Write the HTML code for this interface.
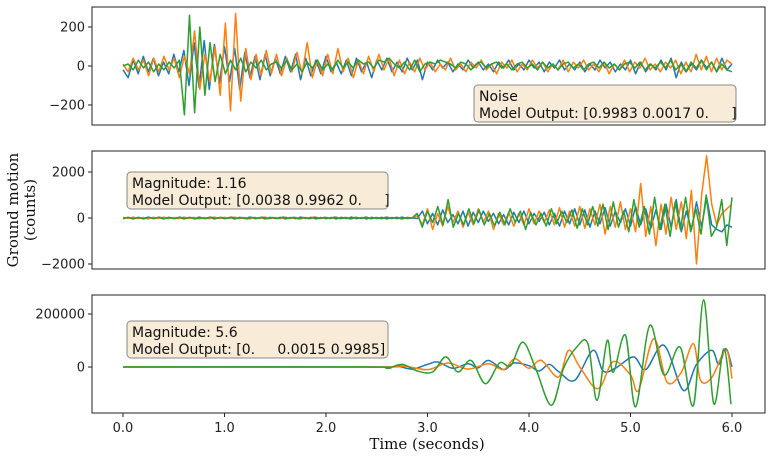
<!DOCTYPE html>
<html><head><meta charset="utf-8"><style>
body{margin:0;background:#fff;}
svg text{font-family:"DejaVu Sans","Liberation Sans",sans-serif;}
</style></head><body>
<svg id="chart" width="770" height="459" xmlns="http://www.w3.org/2000/svg"></svg>
<script>
// ---- data ----
const xTicks = [0,1,2,3,4,5,6];
const xTickLabels = ["0.0","1.0","2.0","3.0","4.0","5.0","6.0"];
const p1Ticks = [200,0,-200];
const p2Ticks = [2000,0,-2000];
const p3Ticks = [200000,0];

const blue1 = [-20,-60,30,-40,50,-30,40,-50,20,-40,60,
-30,80,-100,120,-110,130,-120,110,-90,100,-80,90,-120,70,-60,50,-70,60,-50,40,
-40,50,-30,60,-70,40,-50,30,-40,50,-30,20,-40,30,-50,40,-30,20,-60,30,-20,40,-30,20,-30,40,-20,30,-70,20,
-20,30,-10,20,-30,10,-20,30,-10,20,-20,10,-30,20,-10,30,-20,10,-20,30,-10,20,-30,20,-10,30,-20,10,-20,20,
-30,10,-20,30,-10,20,-30,10,-20,30,-40,20,-30,10,-20,30,-20,40,-60,20,-30,10,-20,30,-10,20,-30,40,-20,10];
const orange1 = [10,-30,40,-20,30,-50,40,-30,50,-20,40,
-60,50,-40,180,-120,60,-80,100,-150,220,-230,270,-180,90,-70,60,-50,80,-40,60,
-50,40,-30,70,-40,120,-60,30,-50,60,-40,90,-30,40,-60,30,-40,50,-30,60,-20,40,-50,30,-40,20,-30,40,-20,
20,-30,10,-20,40,-20,10,-30,20,-10,30,-20,10,-40,20,-10,30,-30,10,-20,30,-10,20,-30,10,-20,30,-30,20,-10,
30,-20,10,-30,20,-40,10,-20,30,-30,20,-10,40,-20,10,-30,20,-10,30,-40,20,-30,60,-20,50,-30,40,-20,30,10];
const green1 = [0,10,-20,30,-10,20,-30,10,-20,20,-10,
30,-250,260,-240,200,-150,120,-80,60,-40,30,-20,40,-30,20,-10,30,-20,10,
20,-10,30,-20,10,-30,20,-10,30,-20,10,-20,30,-10,20,-10,30,10,20,-10,30,20,40,10,-10,20,-20,30,-30,10,
20,10,30,20,10,-10,20,10,-20,10,20,-10,10,20,-10,10,-20,10,20,-10,10,-20,20,-10,10,-20,10,20,-10,10,
-20,10,20,-10,20,-10,10,-20,10,20,-10,20,-20,10,-10,20,-10,30,-20,10,-30,20,-10,30,-20,20,-30,10,-20,-30];

const blue2 = [-30,20,-40,30,-20,40,-30,20,-40,30,-20,30,-40,20,-30,40,-20,30,-40,20,-30,20,-40,30,-20,40,-30,20,-40,30,
-20,30,-40,20,-30,40,-20,30,-40,20,-30,20,-40,30,-20,40,-30,20,-40,30,-20,30,-40,20,-30,40,-20,0,
-20,300,-250,200,-300,350,-200,150,-250,300,-350,250,-200,300,-150,200,-250,150,-300,250,-200,300,-250,200,-150,250,-300,200,-350,300,
-250,400,-300,350,-400,300,-250,450,-350,300,-200,400,-350,500,-300,400,-450,350,-500,600,-400,800,-600,300,-500,700,-400,900,-300,-500,-600,-300,-400];
const orange2 = [30,-20,40,-30,20,-40,30,-20,40,-30,20,-30,40,-20,30,-40,20,-30,40,-20,30,-20,40,-30,20,-40,30,-20,40,-30,
20,-30,40,-20,30,-40,20,-30,40,-20,30,-20,40,-30,20,-40,30,-20,40,-30,20,-30,40,-20,30,-40,20,0,
100,-300,400,-500,200,-350,500,-200,300,-400,250,-300,400,-200,300,-500,200,-300,250,-350,200,-300,400,-250,300,-200,350,-300,450,-400,
300,-350,500,-450,400,-300,600,-700,500,-400,700,-500,400,-600,1500,-800,500,-1200,600,-700,900,-500,700,-900,1200,-2000,1000,2700,600,-300,200,400,600];
const green2 = [-20,30,-30,20,-40,30,-20,40,-30,20,-30,40,-20,30,-40,20,-30,40,-20,30,-20,40,-30,20,-40,30,-20,40,-30,20,
-30,40,-20,30,-40,20,-30,40,-20,30,-20,40,-30,20,-40,30,-20,40,-30,20,-30,40,-20,30,-40,20,0,200,
-400,300,-200,500,-300,800,-400,200,-300,400,-250,350,-300,200,-350,250,-300,400,-200,300,-500,250,-300,200,-350,400,-250,300,-200,350,
-450,400,-300,500,-350,600,-500,700,-400,300,-600,800,-400,500,-700,900,-500,600,-800,700,-500,900,-600,400,-700,1000,-800,-400,800,-1200,900];

const t3Blue = [0,2.5,2.7,2.85,3.0,3.1,3.25,3.4,3.5,3.6,3.75,3.85,4.0,4.1,4.2,4.3,4.45,4.63,4.73,4.85,5.03,5.15,5.33,5.52,5.65,5.8,5.87,5.94,6.0];
const v3Blue = [0,0,3,-8,10,19,-5,12,-3,25,-10,15,5,-15,10,-20,-50,63,-15,-5,38,-10,82,-88,10,63,10,69,0];
const t3Orange = [0,2.5,2.75,3.0,3.2,3.4,3.6,3.75,3.86,4.0,4.12,4.29,4.39,4.5,4.68,4.83,5.0,5.08,5.23,5.36,5.5,5.62,5.69,5.8,5.94,6.0];
const v3Orange = [0,0,5,-10,15,-8,12,-10,31,-5,25,-38,63,0,-82,20,-30,-88,107,-57,-20,88,-50,-40,63,-44];
const t3Green = [0,2.4,2.6,2.75,2.9,3.05,3.18,3.3,3.43,3.57,3.71,3.82,3.94,4.07,4.22,4.34,4.47,4.58,4.67,4.77,4.83,4.95,5.05,5.19,5.33,5.49,5.62,5.72,5.82,5.92,5.99];
const v3Green = [0,0,-5,10,-15,-19,38,-19,25,-63,15,5,94,-10,-145,-5,75,88,-126,100,-20,120,-150,157,-30,75,-145,254,-138,69,-140];

// ---- layout ----
const svg = document.getElementById('chart');
const NS = 'http://www.w3.org/2000/svg';
const X0 = 92, X1 = 765;
const xs = t => 123 + t * 101.5;
const panels = [
  {top:7,bot:125,zero:66,scale:39/200,ticks:p1Ticks,name:'noise-panel'},
  {top:151,bot:269,zero:218,scale:46/2000,ticks:p2Ticks,name:'magnitude-1-panel'},
  {top:295,bot:413,zero:367,scale:53/200000,ticks:p3Ticks,name:'magnitude-5-panel'}
];
const colors = ['#1f77b4','#ff7f0e','#2ca02c'];
const names = ['blue','orange','green'];
function mk(tag, attrs){const e=document.createElementNS(NS,tag);for(const k in attrs)e.setAttribute(k,attrs[k]);return e;}
const fmt = v => (v<0?'\u2212':'') + Math.abs(v);

function uniformPath(arr, p){
  const dt = 6/(arr.length-1);
  return arr.map((v,i)=>(i?'L':'M')+xs(i*dt).toFixed(1)+','+(p.zero - v*p.scale).toFixed(1)).join('');
}
function smoothPath(ts, vs, p){
  const pts = ts.map((t,i)=>[xs(t), p.zero - vs[i]*1000*p.scale]);
  let d = 'M'+pts[0][0].toFixed(1)+','+pts[0][1].toFixed(1);
  for(let i=0;i<pts.length-1;i++){
    const p0=pts[Math.max(0,i-1)],p1=pts[i],p2=pts[i+1],p3=pts[Math.min(pts.length-1,i+2)];
    const c1=[p1[0]+(p2[0]-p0[0])/6,p1[1]+(p2[1]-p0[1])/6];
    const c2=[p2[0]-(p3[0]-p1[0])/6,p2[1]-(p3[1]-p1[1])/6];
    d+='C'+c1.map(n=>n.toFixed(1))+' '+c2.map(n=>n.toFixed(1))+' '+p2.map(n=>n.toFixed(1));
  }
  return d;
}

const series = [[blue1,orange1,green1],[blue2,orange2,green2]];
const smooth = [[t3Blue,v3Blue],[t3Orange,v3Orange],[t3Green,v3Green]];
const boxes = [
  {x:474,y:85,w:262,lines:['Noise','Model Output: [0.9983 0.0017 0.     ]']},
  {x:127,y:172,w:261,lines:['Magnitude: 1.16','Model Output: [0.0038 0.9962 0.     ]']},
  {x:127,y:321,w:261,lines:['Magnitude: 5.6','Model Output: [0.     0.0015 0.9985]']}
];

panels.forEach((p,pi)=>{
  const g = mk('g',{});
  
  
  svg.appendChild(g);
  for(let s=0;s<3;s++){
    const d = pi<2 ? uniformPath(series[pi][s],p) : smoothPath(smooth[s][0],smooth[s][1],p);
    const path = mk('path',{d:d,fill:'none',stroke:colors[s],'stroke-width':1.5,'stroke-linejoin':'round'});
    
    
    g.appendChild(path);
  }
  const frame = mk('rect',{x:X0,y:p.top,width:X1-X0,height:p.bot-p.top,fill:'none',stroke:'#222','stroke-width':1});
  
  
  g.appendChild(frame);
  p.ticks.forEach(v=>{
    const y = p.zero - v*p.scale;
    g.appendChild(mk('line',{x1:X0-4,x2:X0,y1:y,y2:y,stroke:'#222'}));
    const t = mk('text',{x:X0-7,y:y+4.5,'text-anchor':'end','font-size':13,fill:'#222'});
    t.textContent = fmt(v);
    
    
    g.appendChild(t);
  });
  const b = boxes[pi];
  const box = mk('rect',{x:b.x,y:b.y,width:b.w,height:37,rx:4,fill:'#f8ecd8',stroke:'#888','stroke-width':1});
  
  
  g.appendChild(box);
  b.lines.forEach((ln,i)=>{
    const t = mk('text',{x:b.x+5,y:b.y+16+i*17,'font-size':14,fill:'#111','xml:space':'preserve'});
    t.setAttribute('style','white-space:pre');
    t.textContent = ln;
    
    
    g.appendChild(t);
  });
});

xTicks.forEach((v,i)=>{
  const x = xs(v);
  svg.appendChild(mk('line',{x1:x,x2:x,y1:413,y2:417,stroke:'#222'}));
  const t = mk('text',{x:x,y:432,'text-anchor':'middle','font-size':13,fill:'#222'});
  t.textContent = xTickLabels[i];
  
  
  svg.appendChild(t);
});
const xl = mk('text',{x:427,y:449,'text-anchor':'middle','font-size':15,fill:'#111'});
xl.setAttribute('style','font-family:"DejaVu Serif","Liberation Serif",serif');
xl.textContent = 'Time (seconds)';


svg.appendChild(xl);
['Ground motion','(counts)'].forEach((s,i)=>{
  const t = mk('text',{x:0,y:0,'text-anchor':'middle','font-size':15,fill:'#111',transform:'translate('+(18+i*17)+',210) rotate(-90)'});
  t.setAttribute('style','font-family:"DejaVu Serif","Liberation Serif",serif');
  t.textContent = s;
  
  
  svg.appendChild(t);
});
</script>
</body></html>
